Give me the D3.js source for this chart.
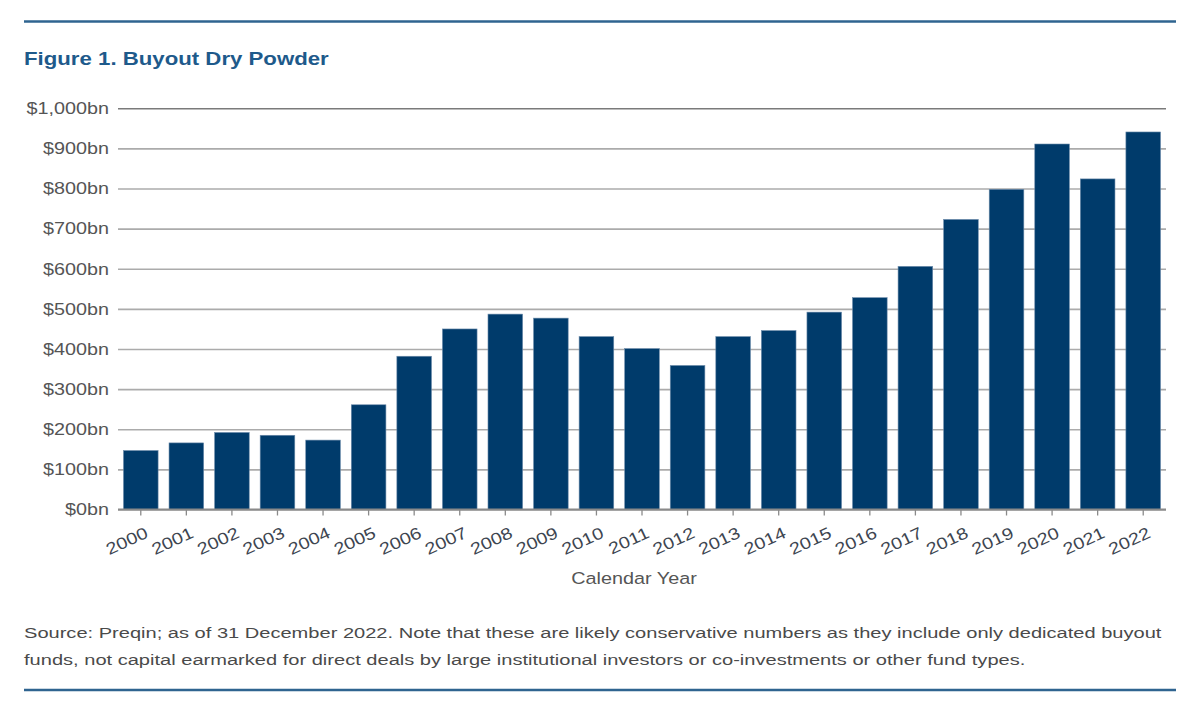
<!DOCTYPE html>
<html>
<head>
<meta charset="utf-8">
<script src="https://cdn.jsdelivr.net/npm/d3@7"></script>
<style>
  html, body { margin: 0; padding: 0; background: #ffffff; }
  svg { display: block; }
</style>
</head>
<body>
<svg id="chart" width="1200" height="701"></svg>
<script>
// ---- Data ----
const years = ["2000","2001","2002","2003","2004","2005","2006","2007","2008","2009","2010","2011",
               "2012","2013","2014","2015","2016","2017","2018","2019","2020","2021","2022"];
const dryPowder = [147,166,192,185,173,261,382,450,487,477,431,401,359,431,446,492,528,606,723,798,911,824,941];
const yTicks = [0,100,200,300,400,500,600,700,800,900,1000];
const titleText = "Figure 1. Buyout Dry Powder";
const xAxisTitle = "Calendar Year";
const sourceLines = [
  "Source: Preqin; as of 31 December 2022. Note that these are likely conservative numbers as they include only dedicated buyout",
  "funds, not capital earmarked for direct deals by large institutional investors or co-investments or other fund types."
];

// ---- Layout ----
const SX = 1.2;               // horizontal text stretch seen in the reference
const FONT = "'Liberation Sans', Arial, Helvetica, sans-serif";
const plot = { left: 118, right: 1166, top: 108.3, bottom: 509.5 };

const svg = d3.select("#chart");

// rules
svg.append("line").attr("x1", 24).attr("x2", 1176).attr("y1", 21.5).attr("y2", 21.5)
  .attr("stroke", "#2f6490").attr("stroke-width", 2.5);
svg.append("line").attr("x1", 24).attr("x2", 1176).attr("y1", 690).attr("y2", 690)
  .attr("stroke", "#2f6490").attr("stroke-width", 2.5);

// title
svg.append("text")
  .attr("transform", `translate(24,64.5) scale(1.17,1)`)
  .attr("font-family", FONT).attr("font-weight", "bold").attr("font-size", 19)
  .attr("fill", "#1e5a8b")
  .text(titleText);

// scales
const x = d3.scaleBand().domain(years).range([plot.left, plot.right])
  .paddingInner(0.24).paddingOuter(0.12);
const y = d3.scaleLinear().domain([0, 1000]).range([plot.bottom, plot.top]);

// y axis with gridlines
const yAxis = svg.append("g")
  .attr("transform", `translate(${plot.left},0)`)
  .call(d3.axisLeft(y).tickValues(yTicks)
    .tickSize(-(plot.right - plot.left))
    .tickFormat(d => "$" + d3.format(",")(d) + "bn"));
yAxis.select(".domain").remove();
yAxis.selectAll(".tick line")
  .attr("stroke", d => (d === 1000 ? "#7a7a7a" : "#ababab"))
  .attr("stroke-width", 1.6);
yAxis.selectAll(".tick text")
  .attr("font-family", FONT).attr("font-size", 16.5).attr("fill", "#555555")
  .attr("x", -9 / SX)
  .attr("transform", `scale(${SX},1)`);

// bars
svg.append("g").selectAll("rect")
  .data(dryPowder)
  .join("rect")
  .attr("x", (d, i) => x(years[i]))
  .attr("width", x.bandwidth())
  .attr("y", d => y(d))
  .attr("height", d => y(0) - y(d))
  .attr("fill", "#003b6b")
  .attr("stroke", "#6d8cab")
  .attr("stroke-width", 0.6);

// x axis
const xAxis = svg.append("g")
  .attr("transform", `translate(0,${plot.bottom})`)
  .call(d3.axisBottom(x).tickSize(6).tickSizeOuter(0));
xAxis.select(".domain")
  .attr("d", `M${plot.left},0H${plot.right}`)
  .attr("stroke", "#8a8a8a").attr("stroke-width", 2);
xAxis.selectAll(".tick line").attr("stroke", "#8a8a8a").attr("stroke-width", 1.3);
xAxis.selectAll(".tick text")
  .attr("font-family", FONT).attr("font-size", 16.5).attr("fill", "#3d4550")
  .attr("text-anchor", "end")
  .attr("x", 0).attr("y", 0).attr("dy", "0.35em")
  .attr("transform", `translate(6,22) rotate(-25) scale(${SX},1)`);

// x axis title
svg.append("text")
  .attr("transform", `translate(634,584) scale(${SX},1)`)
  .attr("text-anchor", "middle")
  .attr("font-family", FONT).attr("font-size", 16.5).attr("fill", "#555555")
  .text(xAxisTitle);

// source note
svg.append("g").selectAll("text")
  .data(sourceLines)
  .join("text")
  .attr("transform", (d, i) => `translate(24,${638 + i * 27}) scale(1.295,1)`)
  .attr("font-family", FONT).attr("font-size", 15.5).attr("fill", "#4a4a4a")
  .text(d => d);
</script>
</body>
</html>
